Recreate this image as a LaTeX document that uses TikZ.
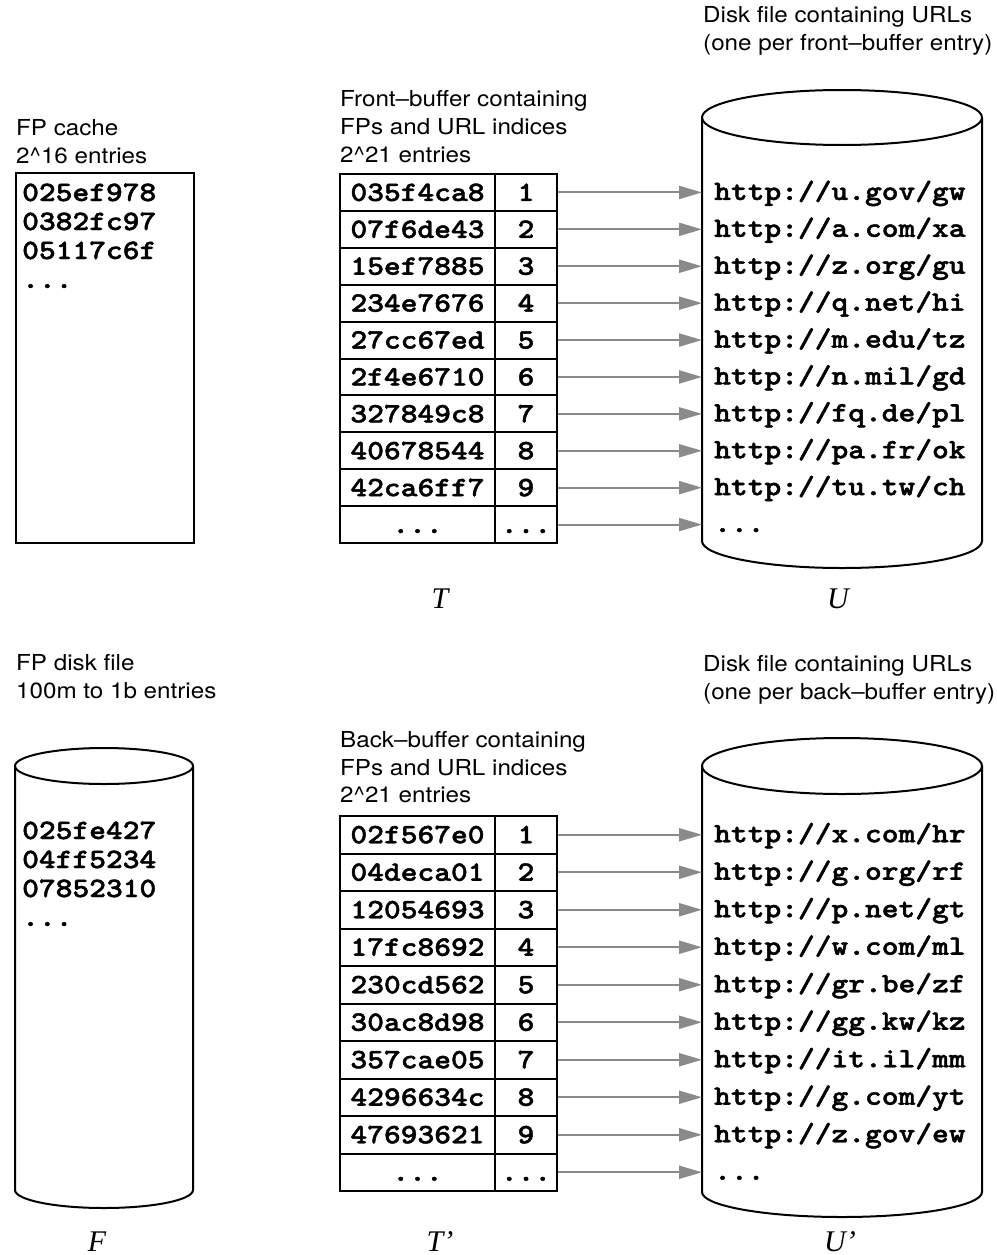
\documentclass[tikz,border=0pt]{standalone}
\usepackage{fontspec}
\setmainfont{TeX Gyre Heros}[FakeStretch=1.1]
\newfontfamily\lblserif{Liberation Serif}
\newfontfamily\hexfont{lmmonolt10-bold}[Extension=.otf, FakeStretch=1.14, FakeBold=1.6]
\usetikzlibrary{arrows.meta}
\definecolor{arrgray}{HTML}{8A8A8A}
\tikzset{
  lbl/.style={font=\fontsize{22}{24}\selectfont, anchor=base west, inner sep=0pt},
  sym/.style={font=\lblserif\itshape\fontsize{30}{32}\selectfont, anchor=base, inner sep=0pt, text depth=0pt},
  hx/.style={font=\hexfont\fontsize{28}{29}\selectfont, inner sep=0pt, text height=17pt, text depth=0pt},
  hline/.style={font=\hexfont\fontsize{28}{29}\selectfont, inner sep=0pt, anchor=base west},
  hcell/.style={hx, draw, line width=2pt, minimum width=155pt, anchor=north west},
  icell/.style={hx, draw, line width=2pt, minimum width=62pt, anchor=north west},
  url/.style={hx, anchor=west},
  arr/.style={draw=arrgray, line width=2pt, -{Triangle[length=23pt,width=13pt]}},
  cyl/.style={draw, line width=2pt},
}
\begin{document}
\begin{tikzpicture}[x=1pt,y=-1pt]
\useasboundingbox (0,0) rectangle (996,1255);

% ---------------- top section ----------------
\node[lbl] (t1) at (16,135) {FP cache};
\node[lbl] (t2) at (16,163) {2\^{}16 entries};
\node[draw, line width=2pt, minimum width=178pt, minimum height=370pt, anchor=north west, inner sep=0pt] (cache) at (15,172) {};
\node[hline] (c1) at (22,201) {025ef978};
\node[hline] (c2) at (22,230) {0382fc97};
\node[hline] (c3) at (22,259) {05117c6f};
\node[hline] (c4) at (22,288) {...};

\node[lbl] (fb1) at (340,106) {Front--buffer containing};
\node[lbl] (fb2) at (340,134) {FPs and URL indices};
\node[lbl] (fb3) at (340,162) {2\^{}21 entries};

\node[lbl] (d1) at (703,23) {Disk file containing URLs};
\node[lbl] (d2) at (703,51) {(one per front--buffer entry)};

\foreach \h [count=\i] in {035f4ca8,07f6de43,15ef7885,234e7676,27cc67ed,2f4e6710,327849c8,40678544,42ca6ff7}{
  \node[hcell, minimum height=36.9pt] (ta\i) at (339,{173+36.9*(\i-1)}) {\h};
  \node[icell, minimum height=36.9pt] (tb\i) at (494,{173+36.9*(\i-1)}) {\i};
}
\node[hcell, minimum height=36.9pt] (ta10) at (339,{173+36.9*9}) {...};
\node[icell, minimum height=36.9pt] (tb10) at (494,{173+36.9*9}) {...};

% cylinder U
\draw[cyl] (842,117.5) ellipse [x radius=140, y radius=27.5];
\draw[cyl] (702,117.5) -- (702,541) arc[start angle=180, end angle=0, x radius=140, y radius=27] -- (982,117.5);
\coordinate (Uleft) at (702,300);

\foreach \u [count=\i] in {u.gov/gw,a.com/xa,z.org/gu,q.net/hi,m.edu/tz,n.mil/gd,fq.de/pl,pa.fr/ok,tu.tw/ch}{
  \node[url] (ua\i) at (714,{173+36.9*(\i-0.5)}) {http://\u};
}
\node[url] (ua10) at (714,{173+36.9*9.5}) {...};

\foreach \i in {1,...,10}{
  \draw[arr] (tb\i.east) -- (tb\i.east -| Uleft);
}

\node[sym] (T) at (440,608) {T};
\node[sym] (U) at (838,608) {U};

% ---------------- bottom section ----------------
\node[lbl] (b1) at (16,670) {FP disk file};
\node[lbl] (b2) at (16,698) {100m to 1b entries};

% cylinder F
\draw[cyl] (104,766) ellipse [x radius=89, y radius=18];
\draw[cyl] (15,766) -- (15,1190) arc[start angle=180, end angle=0, x radius=89, y radius=18] -- (193,766);
\node[hline] (f1) at (22,839) {025fe427};
\node[hline] (f2) at (22,868) {04ff5234};
\node[hline] (f3) at (22,897) {07852310};
\node[hline] (f4) at (22,926) {...};

\node[lbl] (bb1) at (340,747) {Back--buffer containing};
\node[lbl] (bb2) at (340,775) {FPs and URL indices};
\node[lbl] (bb3) at (340,802) {2\^{}21 entries};

\node[lbl] (e1) at (703,671) {Disk file containing URLs};
\node[lbl] (e2) at (703,699) {(one per back--buffer entry)};

\foreach \h [count=\i] in {02f567e0,04deca01,12054693,17fc8692,230cd562,30ac8d98,357cae05,4296634c,47693621}{
  \node[hcell, minimum height=37.5pt] (sa\i) at (339,{815+37.5*(\i-1)}) {\h};
  \node[icell, minimum height=37.5pt] (sb\i) at (494,{815+37.5*(\i-1)}) {\i};
}
\node[hcell, minimum height=37.5pt] (sa10) at (339,{815+37.5*9}) {...};
\node[icell, minimum height=37.5pt] (sb10) at (494,{815+37.5*9}) {...};

% cylinder U'
\draw[cyl] (842,766) ellipse [x radius=140, y radius=28];
\draw[cyl] (702,766) -- (702,1192) arc[start angle=180, end angle=0, x radius=140, y radius=25] -- (982,766);
\coordinate (Vleft) at (702,1000);

\foreach \u [count=\i] in {x.com/hr,g.org/rf,p.net/gt,w.com/ml,gr.be/zf,gg.kw/kz,it.il/mm,g.com/yt,z.gov/ew}{
  \node[url] (va\i) at (714,{815+37.5*(\i-0.5)}) {http://\u};
}
\node[url] (va10) at (714,{815+37.5*9.5}) {...};

\foreach \i in {1,...,10}{
  \draw[arr] (sb\i.east) -- (sb\i.east -| Vleft);
}

\node[sym] (F) at (97,1251) {F};
\node[sym] (Tp) at (440,1251) {T’};
\node[sym] (Up) at (840,1251) {U’};
\end{tikzpicture}
\end{document}
